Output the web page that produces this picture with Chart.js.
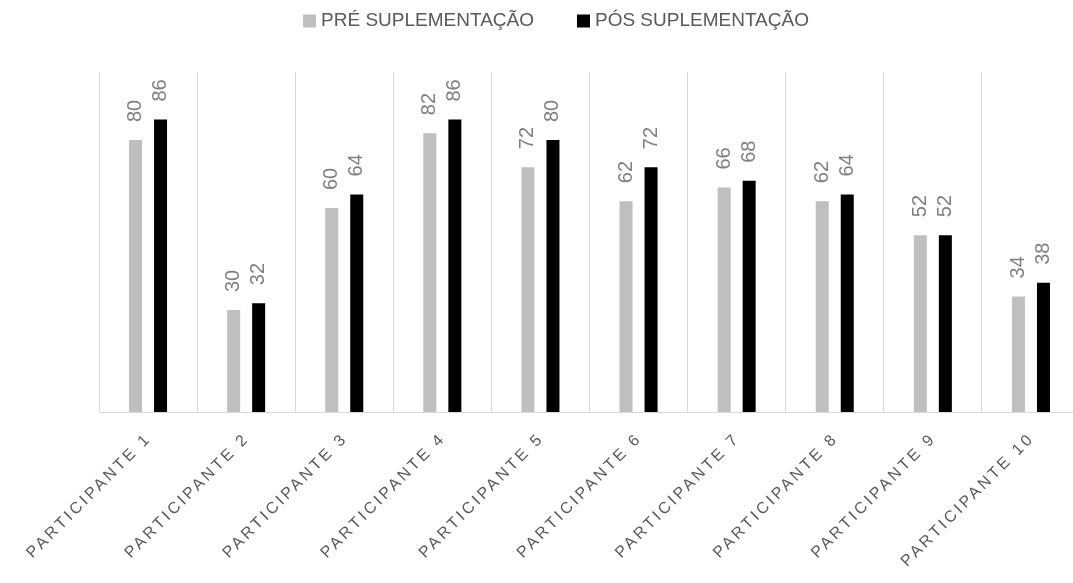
<!DOCTYPE html>
<html>
<head>
<meta charset="utf-8">
<script src="https://cdn.jsdelivr.net/npm/chart.js@4/dist/chart.umd.min.js"></script>
<style>
  html, body { margin: 0; padding: 0; background: #fff; overflow: hidden; width: 1073px; height: 583px; }
  canvas { display: block; }
</style>
</head>
<body>
<canvas id="chart" width="1080" height="583"></canvas>
<script>
// Participants and their scores before / after supplementation
const categories = [
  'PARTICIPANTE 1', 'PARTICIPANTE 2', 'PARTICIPANTE 3', 'PARTICIPANTE 4', 'PARTICIPANTE 5',
  'PARTICIPANTE 6', 'PARTICIPANTE 7', 'PARTICIPANTE 8', 'PARTICIPANTE 9', 'PARTICIPANTE 10'
];
const seriesNames = ['PRÉ SUPLEMENTAÇÃO', 'PÓS SUPLEMENTAÇÃO'];
const preValues  = [80, 30, 60, 82, 72, 62, 66, 62, 52, 34];
const postValues = [86, 32, 64, 86, 80, 72, 68, 64, 52, 38];
const yRange = [0, 100];

const TEXT_FONT = "'Liberation Sans', Arial, sans-serif";
const VALUE_FONT = "'Liberation Sans Narrow', 'Liberation Sans', Arial, sans-serif";

// Rotated value labels above each bar
const valueLabels = {
  id: 'valueLabels',
  afterDatasetsDraw(chart) {
    const ctx = chart.ctx;
    chart.data.datasets.forEach((ds, di) => {
      const meta = chart.getDatasetMeta(di);
      meta.data.forEach((bar, i) => {
        ctx.save();
        ctx.translate(bar.x, bar.y - 18);
        ctx.rotate(-Math.PI / 2);
        ctx.font = '20px ' + VALUE_FONT;
        ctx.fillStyle = '#808080';
        ctx.textAlign = 'left';
        ctx.textBaseline = 'middle';
        ctx.fillText(String(ds.data[i]), 0, 0);
        ctx.restore();
      });
    });
  }
};

// Diagonal, letter-spaced category labels under the axis
const categoryLabels = {
  id: 'categoryLabels',
  afterDraw(chart) {
    const ctx = chart.ctx;
    const scale = chart.scales.x;
    chart.data.labels.forEach((label, i) => {
      const x = scale.getPixelForTick(i);
      ctx.save();
      ctx.letterSpacing = '3px';
      ctx.font = '16px ' + TEXT_FONT;
      ctx.fillStyle = '#595959';
      ctx.translate(x + 1, scale.top + 24);
      ctx.rotate(-Math.PI / 4);
      ctx.textAlign = 'right';
      ctx.textBaseline = 'middle';
      ctx.fillText(label, 0, 0);
      ctx.restore();
    });
  }
};

// Legend row centred above the plot
const topLegend = {
  id: 'topLegend',
  afterDraw(chart) {
    const ctx = chart.ctx;
    const box = 13, boxGap = 5, itemGap = 43, centerX = 556, midY = 21;
    ctx.save();
    ctx.font = '19px ' + TEXT_FONT;
    const items = chart.data.datasets.map(ds => ({
      text: ds.label, color: ds.backgroundColor, w: box + boxGap + ctx.measureText(ds.label).width
    }));
    const total = items.reduce((s, it) => s + it.w, 0) + itemGap * (items.length - 1);
    let x = centerX - total / 2;
    items.forEach(it => {
      ctx.fillStyle = it.color;
      ctx.fillRect(x, midY - box / 2, box, box);
      ctx.fillStyle = '#595959';
      ctx.textAlign = 'left';
      ctx.textBaseline = 'middle';
      ctx.fillText(it.text, x + box + boxGap, midY);
      x += it.w + itemGap;
    });
    ctx.restore();
  }
};

new Chart(document.getElementById('chart'), {
  type: 'bar',
  data: {
    labels: categories,
    datasets: [
      { label: seriesNames[0], data: preValues, backgroundColor: '#bfbfbf',
        categoryPercentage: 0.51, barPercentage: 0.52 },
      { label: seriesNames[1], data: postValues, backgroundColor: '#000000',
        categoryPercentage: 0.51, barPercentage: 0.52 }
    ]
  },
  options: {
    responsive: false,
    animation: false,
    layout: { padding: { left: 99, top: 72, right: 0, bottom: 0 } },
    plugins: { legend: { display: false }, tooltip: { enabled: false } },
    scales: {
      x: {
        grid: { color: '#d9d9d9', lineWidth: 1, drawTicks: false, offset: true },
        border: { color: '#d9d9d9', width: 1 },
        ticks: { display: false },
        afterFit(scale) { scale.height = 171; }
      },
      y: {
        display: false,
        min: yRange[0],
        max: yRange[1]
      }
    }
  },
  plugins: [valueLabels, categoryLabels, topLegend]
});
</script>
</body>
</html>
